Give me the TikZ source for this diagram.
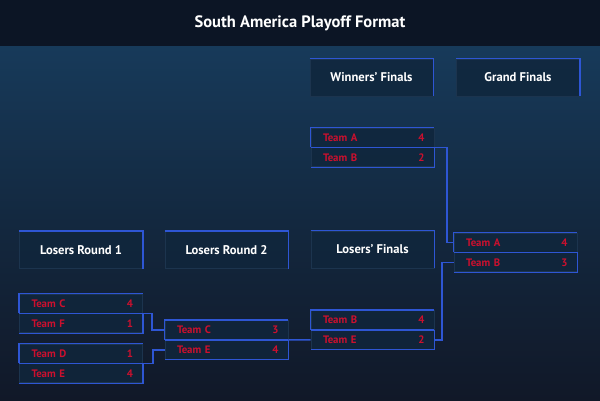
\documentclass[tikz,border=0pt]{standalone}
\usepackage{fontspec}
\setmainfont{PT Sans}
\usetikzlibrary{calc,positioning}
\definecolor{barbg}{RGB}{12,21,37}
\definecolor{bgtop}{RGB}{23,58,90}
\definecolor{bgmid}{RGB}{19,40,63}
\definecolor{bgbot}{RGB}{17,24,40}
\definecolor{boxbg}{RGB}{16,38,60}
\definecolor{boxedge}{RGB}{28,52,78}
\definecolor{lineblue}{RGB}{46,86,212}
\definecolor{teamred}{RGB}{204,16,46}
\tikzset{
  roundhead/.style={rectangle, fill=boxbg, fill opacity=0.85, text opacity=1, draw=boxedge, line width=0.8pt,
    minimum width=123pt, minimum height=37pt, text=white, font=\fontsize{12.6}{14}\selectfont\bfseries},
  teamrow/.style={rectangle, fill=boxbg, fill opacity=0.85, text opacity=1, draw=boxedge, line width=0.8pt,
    minimum width=123pt, minimum height=19pt, text width=99pt, inner xsep=12pt, align=left,
    text=teamred, font=\fontsize{10.8}{12}\selectfont\bfseries},
  score/.style={text=teamred, font=\fontsize{10.8}{12}\selectfont\bfseries, inner sep=0pt},
  blueline/.style={draw=lineblue, line width=1.4pt},
  link/.style={draw=lineblue, line width=1.6pt}
}
% #1 name, #2 centre of first row, #3 team, #4 score, #5 team, #6 score
\def\matchbox#1(#2)#3#4#5#6{%
  \node[teamrow] (#1a) at (#2) {#3};
  \node[teamrow, below=0pt of #1a] (#1b) {#5};
  \node[score] at ($(#1a.east)+(-13,0)$) {#4};
  \node[score] at ($(#1b.east)+(-13,0)$) {#6};
  \draw[blueline] (#1a.south west) -- (#1a.north west) -- (#1a.north east);
  \draw[blueline] (#1a.south west) -- (#1a.south east);
  \draw[blueline] (#1b.north east) -- (#1b.south east) -- (#1b.south west);
}
\begin{document}
\begin{tikzpicture}[x=1pt, y=-1pt]
		%%%%% BACKGROUND %%%%%
		\useasboundingbox (0,0) rectangle (600,400);
		\shade[top color=bgtop, bottom color=bgbot, middle color=bgmid] (0,46) rectangle (600,400);
		\fill[barbg] (0,0) rectangle (600,46);
		\node[text=white, font=\fontsize{16.5}{18}\selectfont\bfseries] (title) at (300,23) {South America Playoff Format};
		
		%%%%% HEADERS %%%%%
		\node[roundhead] (wfh) at (371.5,77.5) {Winners’ Finals};
		\node[roundhead] (gfh) at (518,77.5) {Grand Finals};
		\node[roundhead] (lr1h) at (81,250) {Losers Round 1};
		\node[roundhead] (lr2h) at (226.5,250) {Losers Round 2};
		\node[roundhead] (lfh) at (372.5,249.5) {Losers’ Finals};
		\foreach \n in {wfh,gfh,lr1h,lr2h,lfh}
			\draw[blueline] (\n.north west) -- (\n.north east) -- (\n.south east);
		
		%%%%% MATCHES %%%%%
		\matchbox wf(372.5,137.5){Team A}{4}{Team B}{2}
		\matchbox gf(515.5,242.5){Team A}{4}{Team B}{3}
		\matchbox lf(372.5,320){Team B}{4}{Team E}{2}
		\matchbox lrc(226.5,330){Team C}{3}{Team E}{4}
		\matchbox lra(81,303.5){Team C}{4}{Team F}{1}
		\matchbox lrb(81,353.5){Team D}{1}{Team E}{4}
		
		%%%%% LINKS %%%%%
		\draw[link] (lrab.north east) -- ++(9,0) |- (lrca.west);
		\draw[link] (lrbb.north east) -- ++(10,0) |- (lrcb.west);
		\draw[link] (lrcb.north east) -- (lfb.west);
		\draw[link] (lfb.east) -- ++(7.5,0) |- (gfb.west);
		\draw[link] (wfb.north east) -- ++(12.5,0) |- (gfa.west);
		
	\end{tikzpicture}
\end{document}
